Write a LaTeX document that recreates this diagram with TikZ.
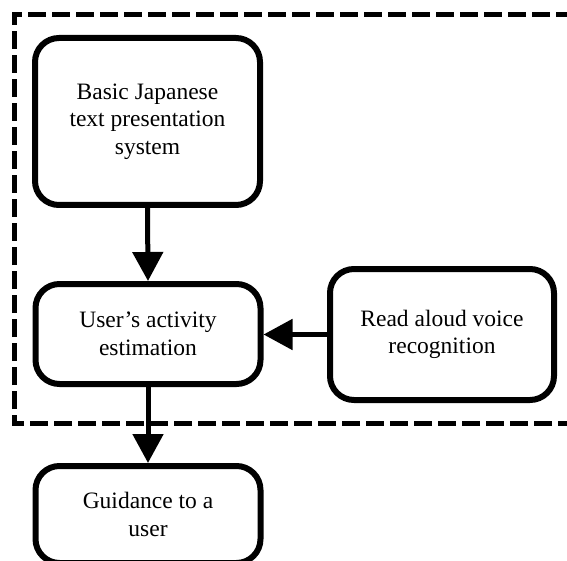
\documentclass[tikz,border=0pt]{standalone}
\usepackage{fontspec}
\setmainfont{Liberation Serif}
\usetikzlibrary{arrows.meta}
\begin{document}
\begin{tikzpicture}[x=1pt,y=-1pt,
  box/.style={draw=black,line width=6pt,rounded corners=24pt,fill=white,align=center,
    inner sep=0pt,font=\fontsize{23.5}{27.5}\selectfont},
  flow/.style={line width=5pt,-{Triangle[width=30pt,length=29pt]}},
  frame/.style={line width=5pt,dash pattern=on 18pt off 6pt}]
\clip (0,0) rectangle (567,561);
\fill[white] (0,0) rectangle (567,561);
\draw[frame] (600,423) -- (14,423) -- (14,15) -- (600,15);
\node[box,minimum width=225pt,minimum height=167pt] (b1) at (147.5,121.5) {Basic Japanese\\text presentation\\system};
\node[box,minimum width=225pt,minimum height=100pt] (b2) at (148,334) {User’s activity\\estimation};
\node[box,minimum width=224pt,minimum height=131pt] (b3) at (442,334.5) {Read aloud voice\\recognition};
\node[box,minimum width=225pt,minimum height=97pt] (b4) at (148,514.5) {Guidance to a\\user};
\draw[flow] (b1.south) -- (b2.north);
\draw[flow] (b3.west) -- (b3.west -| b2.east);
\draw[flow] (b2.south) -- (b4.north);
\end{tikzpicture}
\end{document}
